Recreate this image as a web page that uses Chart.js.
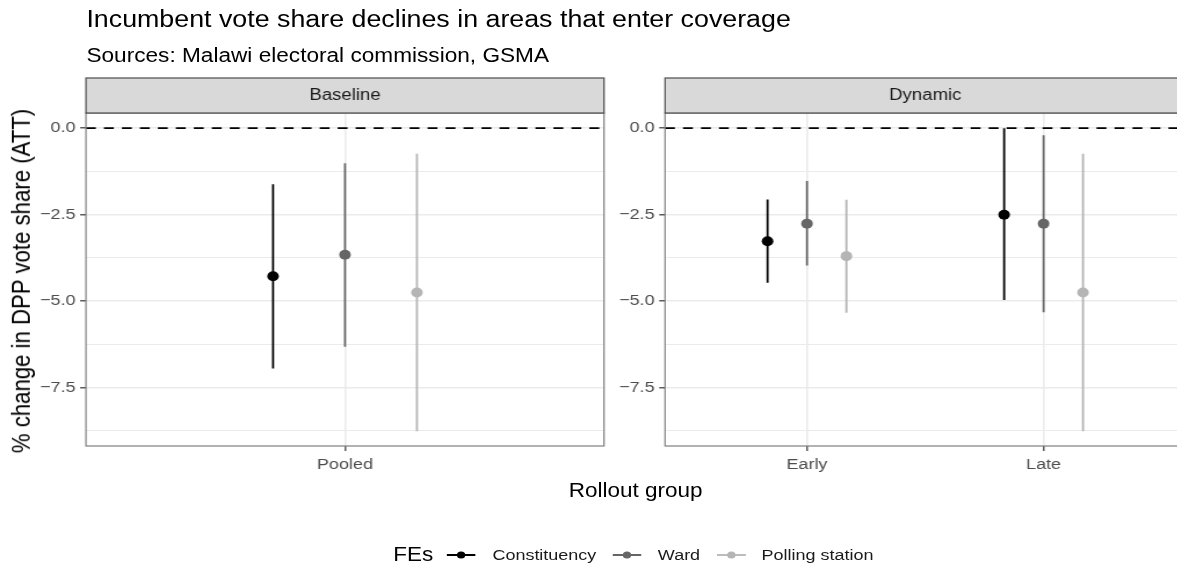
<!DOCTYPE html>
<html>
<head>
<meta charset="utf-8">
<script src="https://cdn.jsdelivr.net/npm/chart.js@4.4.1/dist/chart.umd.min.js"></script>
<style>
  html, body { margin: 0; padding: 0; background: #ffffff; overflow: hidden; width: 1177px; height: 569px; }
  #wrap { position: absolute; left: 0; top: 0; width: 1015px; height: 569px; transform: scaleX(1.16); transform-origin: 0 0; font-family: "Liberation Sans", Arial, Helvetica, sans-serif; }
  canvas { position: absolute; top: 0; }
  .txt { position: absolute; white-space: nowrap; line-height: 1; color: #000; }
  #legend { position: absolute; left: 339px; top: 543px; display: flex; align-items: center; white-space: nowrap; }
  #legend .ltitle { font-size: 19.4px; margin-right: 12px; }
  #legend .item { display: flex; align-items: center; margin-right: 14px; font-size: 15.5px; color: #1a1a1a; }
  #legend svg { margin-right: 14px; }
</style>
</head>
<body>
<div id="wrap">
  <div class="txt" id="title" style="left:74.5px; top:7.5px; font-size:23.1px;">Incumbent vote share declines in areas that enter coverage</div>
  <div class="txt" id="subtitle" style="left:74.5px; top:46px; font-size:19.5px;">Sources: Malawi electoral commission, GSMA</div>
  <canvas id="c1" width="530" height="569" style="left:0px;"></canvas>
  <canvas id="c2" width="520" height="569" style="left:530px;"></canvas>
  <div class="txt" id="ytitle" style="left:18.5px; top:281px; font-size:22.2px; transform: translate(-50%,-50%) rotate(-90deg);">% change in DPP vote share (ATT)</div>
  <div class="txt" id="xtitle" style="left:548px; top:481px; font-size:19.4px; transform: translateX(-50%);">Rollout group</div>
  <div id="legend"></div>
</div>
<script>
// ---------------- Data ----------------
const FES = ['Constituency', 'Ward', 'Polling station'];
const FE_COLORS = ['#000000', '#666666', '#b5b5b5'];

const PANELS = ['Baseline', 'Dynamic'];
const BASELINE_GROUPS = ['Pooled'];
const DYNAMIC_GROUPS = ['Early', 'Late'];

// Baseline panel (one value per group: Pooled)
const baseConstEst = [-4.28];
const baseConstLo  = [-6.95];
const baseConstHi  = [-1.62];
const baseWardEst  = [-3.66];
const baseWardLo   = [-6.32];
const baseWardHi   = [-1.01];
const basePollEst  = [-4.75];
const basePollLo   = [-8.76];
const basePollHi   = [-0.74];

// Dynamic panel (values for Early, Late)
const dynConstEst = [-3.27, -2.50];
const dynConstLo  = [-4.47, -4.97];
const dynConstHi  = [-2.06,  0.00];
const dynWardEst  = [-2.76, -2.76];
const dynWardLo   = [-3.97, -5.32];
const dynWardHi   = [-1.53, -0.20];
const dynPollEst  = [-3.70, -4.75];
const dynPollLo   = [-5.34, -8.76];
const dynPollHi   = [-2.07, -0.74];

const Y_MAJOR = [-7.5, -5.0, -2.5, 0.0];
const Y_MINOR = [-8.75, -6.25, -3.75, -1.25];
const REF_LINE = 0;

// ---------------- Styling ----------------
const Y_MIN = -9.19, Y_MAX = 0.44;
const DODGE = 1 / 6;
const FONT = '"Liberation Sans", Arial, Helvetica, sans-serif';

function fmt(v) {
  if (Math.abs(v) < 1e-9) return '0.0';
  return (v < 0 ? '\u2212' : '') + Math.abs(v).toFixed(1);
}

function buildDatasets(groups, est, lo, hi, xmin, xmax) {
  const ds = [];
  ds.push({
    type: 'line',
    data: [{x: xmin, y: REF_LINE}, {x: xmax, y: REF_LINE}],
    borderColor: '#000000', borderWidth: 1.8, borderDash: [8.5, 7],
    pointRadius: 0, order: 3, clip: false
  });
  FES.forEach((fe, f) => {
    const seg = [];
    const pts = [];
    groups.forEach((g, i) => {
      const x = (i + 1) + (f - 1) * DODGE;
      seg.push({x: x, y: lo[f][i]}, {x: x, y: hi[f][i]}, {x: x, y: null});
      pts.push({x: x, y: est[f][i]});
    });
    ds.push({
      type: 'line', data: seg, borderColor: FE_COLORS[f], borderWidth: 1.8,
      pointRadius: 0, spanGaps: false, order: 2
    });
    ds.push({
      type: 'scatter', data: pts, backgroundColor: FE_COLORS[f], borderColor: FE_COLORS[f],
      pointRadius: 5, borderWidth: 0, order: 1
    });
  });
  return ds;
}

const stripPlugin = {
  id: 'strip',
  afterDraw(chart, args, opts) {
    const ctx = chart.ctx, a = chart.chartArea;
    ctx.save();
    ctx.strokeStyle = '#7f7f7f';
    ctx.lineWidth = 1.2;
    ctx.strokeRect(a.left, a.top, a.right - a.left, a.bottom - a.top);
    const top = 78, h = a.top - top;
    ctx.fillStyle = '#d9d9d9';
    ctx.fillRect(a.left, top, a.right - a.left, h);
    ctx.strokeStyle = '#4d4d4d';
    ctx.lineWidth = 1.2;
    ctx.strokeRect(a.left, top, a.right - a.left, h);
    ctx.fillStyle = '#1a1a1a';
    ctx.font = '16px ' + FONT;
    ctx.textAlign = 'center';
    ctx.textBaseline = 'middle';
    ctx.fillText(opts.label, (a.left + a.right) / 2, top + h / 2 + 0.5);
    ctx.restore();
  }
};

function makeChart(canvasId, label, groups, est, lo, hi, xmin, xmax, yWidth, padRight) {
  const isMajor = v => Y_MAJOR.some(m => Math.abs(m - v) < 1e-9);
  return new Chart(document.getElementById(canvasId), {
    data: { datasets: buildDatasets(groups, est, lo, hi, xmin, xmax) },
    plugins: [stripPlugin],
    options: {
      responsive: false, animation: false, events: [],
      devicePixelRatio: 1,
      layout: { padding: { left: 0, right: padRight, top: 113, bottom: 93 } },
      plugins: { legend: { display: false }, tooltip: { enabled: false }, strip: { label: label } },
      scales: {
        x: {
          type: 'linear', min: xmin, max: xmax,
          afterBuildTicks: s => { s.ticks = groups.map((g, i) => ({ value: i + 1 })); },
          afterFit: s => { s.height = 30; },
          ticks: {
            autoSkip: false, maxRotation: 0, padding: 4,
            color: '#4d4d4d', font: { size: 15.5, family: FONT },
            callback: (v, i) => groups[i]
          },
          grid: { color: '#ebebeb', lineWidth: 1.6, tickColor: '#333333', tickLength: 5, tickWidth: 1.2 },
          border: { display: false }
        },
        y: {
          type: 'linear', min: Y_MIN, max: Y_MAX,
          afterBuildTicks: s => { s.ticks = Y_MINOR.concat(Y_MAJOR).sort((a, b) => a - b).map(v => ({ value: v })); },
          afterFit: s => { s.width = yWidth; },
          ticks: {
            autoSkip: false, padding: 4,
            color: '#4d4d4d', font: { size: 15.5, family: FONT },
            callback: v => isMajor(v) ? fmt(v) : ''
          },
          grid: {
            color: '#ebebeb',
            lineWidth: c => (c.tick && isMajor(c.tick.value)) ? 1.6 : 1.0,
            tickColor: c => (c.tick && isMajor(c.tick.value)) ? '#333333' : 'rgba(0,0,0,0)',
            tickLength: 5, tickWidth: 1.2
          },
          border: { display: false }
        }
      }
    }
  });
}

makeChart('c1', PANELS[0], BASELINE_GROUPS,
  [baseConstEst, baseWardEst, basePollEst],
  [baseConstLo, baseWardLo, basePollLo],
  [baseConstHi, baseWardHi, basePollHi],
  0.4, 0.4 + BASELINE_GROUPS.length + 0.2, 74.1, 9.3);

makeChart('c2', PANELS[1], DYNAMIC_GROUPS,
  [dynConstEst, dynWardEst, dynPollEst],
  [dynConstLo, dynWardLo, dynPollLo],
  [dynConstHi, dynWardHi, dynPollHi],
  0.4, 0.4 + DYNAMIC_GROUPS.length + 0.2, 43.3, 28);

// ---------------- Legend (HTML) ----------------
const leg = document.getElementById('legend');
const lt = document.createElement('span');
lt.className = 'ltitle';
lt.textContent = 'FEs';
leg.appendChild(lt);
FES.forEach((fe, f) => {
  const it = document.createElement('span');
  it.className = 'item';
  it.innerHTML = '<svg width="25" height="12" viewBox="0 0 25 12">' +
    '<line x1="0" y1="6" x2="25" y2="6" stroke="' + FE_COLORS[f] + '" stroke-width="1.8"/>' +
    '<circle cx="12.5" cy="6" r="3.6" fill="' + FE_COLORS[f] + '"/></svg>';
  const t = document.createElement('span');
  t.textContent = fe;
  it.appendChild(t);
  leg.appendChild(it);
});
</script>
</body>
</html>
